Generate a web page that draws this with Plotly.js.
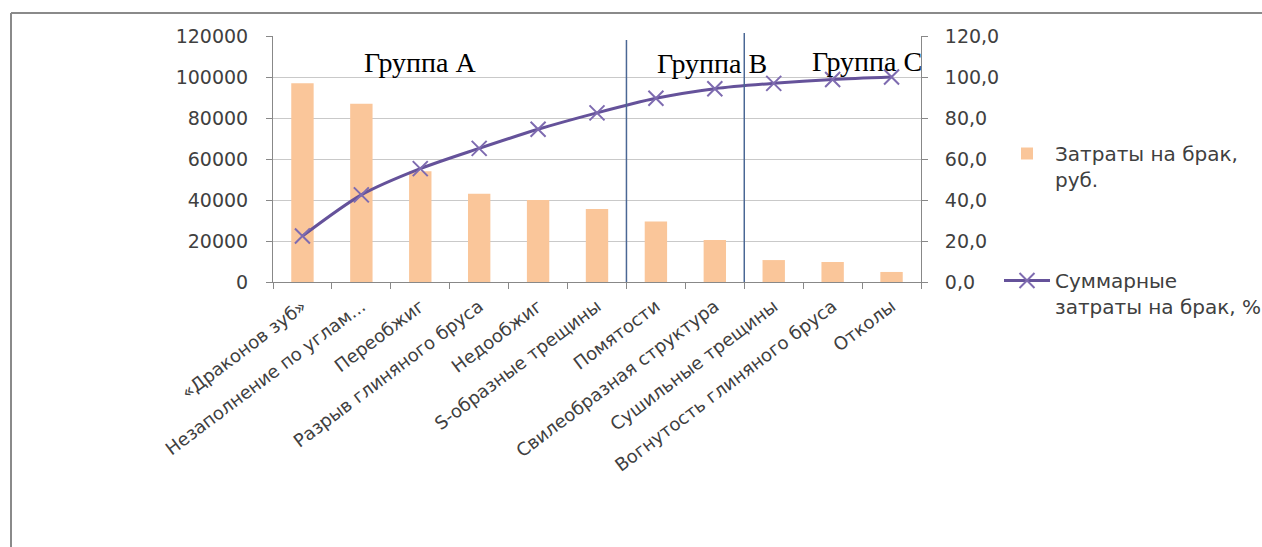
<!DOCTYPE html>
<html>
<head>
<meta charset="utf-8">
<script src="https://cdn.plot.ly/plotly-3.0.1.min.js"></script>
<style>
html,body{margin:0;padding:0;background:#fff;}
#chart{width:1262px;height:547px;}
</style>
</head>
<body>
<div id="chart"></div>
<script>
const categories = [
  "«Драконов зуб»",
  "Незаполнение по углам...",
  "Переобжиг",
  "Разрыв глиняного бруса",
  "Недообжиг",
  "S-образные трещины",
  "Помятости",
  "Свилеобразная структура",
  "Сушильные трещины",
  "Вогнутость глиняного бруса",
  "Отколы"
];
const costs = [97000, 87000, 54000, 43000, 40000, 35600, 29500, 20500, 10700, 9750, 4900];
const cumulativePct = [22.4, 42.5, 55.3, 65.2, 74.5, 82.5, 89.6, 94.3, 96.9, 98.8, 100.0];
const groupBoundaries = [5.5, 7.5];
const groupLabels = ["Группа А", "Группа В", "Группа С"];

const barName = "Затраты на брак,<br>руб.";
const lineName = "Суммарные<br>затраты на брак, %";

const font = "DejaVu Sans, Open Sans, sans-serif";
const textColor = "#404040";

const W = 1262, H = 547;
const L = 273, R = 341, T = 36, B = 265;
const pw = W - L - R, ph = H - T - B;
const px = x => (x - L) / pw;
const py = y => (H - B - y) / ph;

const traces = [
  {
    type: "bar",
    x: categories,
    y: costs,
    name: barName,
    marker: {color: "#FAC69A"},
    yaxis: "y",
    legend: "legend"
  },
  {
    type: "scatter",
    mode: "lines+markers",
    x: categories,
    y: cumulativePct,
    name: lineName,
    yaxis: "y2",
    line: {color: "#65529A", width: 3, shape: "spline", smoothing: 0.8},
    marker: {symbol: "x-thin-open", size: 15, line: {color: "#7E6BB0", width: 2}, color: "#7E6BB0"},
    legend: "legend2"
  }
];

const shapes = [
  {type: "line", xref: "paper", yref: "paper", x0: px(11), x1: px(1262), y0: py(13), y1: py(13), line: {color: "#8a8a8a", width: 2}},
  {type: "line", xref: "paper", yref: "paper", x0: px(11), x1: px(11), y0: py(13), y1: py(547), line: {color: "#8a8a8a", width: 2}}
];
const gTops = [py(40), py(33)];
groupBoundaries.forEach((b, i) => {
  shapes.push({type: "line", xref: "x", yref: "paper", x0: b, x1: b, y0: 0, y1: gTops[i], line: {color: "#4A6794", width: 1.5}});
});

const annPos = [[px(420), py(62)], [px(712), py(63)], [px(867), py(61)]];
const annotations = groupLabels.map((t, i) => ({
  text: t, xref: "paper", yref: "paper", x: annPos[i][0], y: annPos[i][1],
  xanchor: "center", yanchor: "middle", showarrow: false,
  font: {family: "Liberation Serif, Times New Roman, serif", size: 28, color: "#000"}
}));

const layout = {
  width: W, height: H,
  margin: {l: L, r: R, t: T, b: B, pad: 0, autoexpand: false},
  paper_bgcolor: "#fff",
  plot_bgcolor: "#fff",
  separators: ", ",
  bargap: 0.62,
  font: {family: font, size: 17, color: textColor},
  xaxis: {
    type: "category",
    range: [-0.5, categories.length - 0.5],
    tickangle: -37,
    tickson: "boundaries",
    ticks: "outside",
    ticklen: 6,
    tickcolor: "#888",
    showline: true,
    linecolor: "#888",
    linewidth: 1,
    showgrid: false,
    ticklabelstandoff: 6,
    tickfont: {family: font, size: 18, color: textColor},
    automargin: false
  },
  yaxis: {
    range: [0, 120000],
    dtick: 20000,
    tickformat: "d",
    showline: true,
    linecolor: "#888",
    ticks: "outside",
    ticklen: 6,
    tickcolor: "#888",
    gridcolor: "#C9C9C9",
    gridwidth: 1,
    zeroline: false,
    ticklabelstandoff: 14,
    tickfont: {family: font, size: 19, color: textColor},
    automargin: false
  },
  yaxis2: {
    overlaying: "y",
    side: "right",
    range: [0, 120],
    dtick: 20,
    tickformat: ".1f",
    showline: true,
    linecolor: "#888",
    ticks: "outside",
    ticklen: 6,
    tickcolor: "#888",
    showgrid: false,
    zeroline: false,
    ticklabelstandoff: 13,
    tickfont: {family: font, size: 19, color: textColor},
    automargin: false
  },
  legend: {
    x: px(999), y: py(134), xanchor: "left", yanchor: "top",
    valign: "top", itemwidth: 46,
    bgcolor: "rgba(0,0,0,0)",
    font: {family: font, size: 20, color: textColor}
  },
  legend2: {
    x: px(999), y: py(261), xanchor: "left", yanchor: "top",
    valign: "top", itemwidth: 46,
    bgcolor: "rgba(0,0,0,0)",
    font: {family: font, size: 20, color: textColor}
  },
  shapes: shapes,
  annotations: annotations,
  showlegend: true
};

Plotly.newPlot("chart", traces, layout, {displayModeBar: false, responsive: false});
</script>
</body>
</html>
